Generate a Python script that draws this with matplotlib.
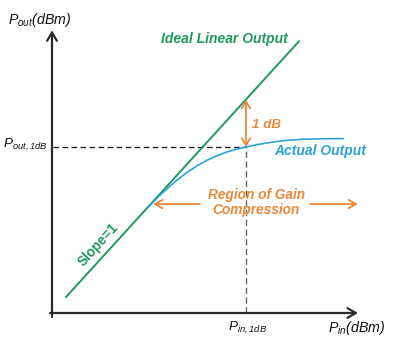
import matplotlib
matplotlib.use("Agg")
import matplotlib.pyplot as plt

plt.rcParams['font.family'] = ['Liberation Sans', 'DejaVu Sans']
plt.rcParams['mathtext.fontset'] = 'custom'
plt.rcParams['mathtext.rm'] = 'Liberation Sans:italic'
plt.rcParams['mathtext.it'] = 'Liberation Sans:italic'
plt.rcParams['mathtext.bf'] = 'Liberation Sans:bold:italic'

# ---- data (schematic units, dBm) ----
ideal_x = [1.4, 24.7]
ideal_y = [1.45, 24.7]

actual_x = [9.6, 10.5, 11.5, 12.5, 13.5, 14.5, 15.5, 16.5, 17.5, 18.5, 19.4,
            20.5, 21.5, 22.5, 23.5, 25.0, 27.0, 29.1]
actual_y = [9.6, 10.45, 11.3, 12.08, 12.78, 13.38, 13.88, 14.3, 14.64, 14.9, 15.09,
            15.3, 15.46, 15.59, 15.69, 15.79, 15.84, 15.85]

p_in_1db = 19.4
p_out_1db = 15.09
p_ideal_1db = 19.4

axis_x_end = 30.6
axis_y_end = 25.7

region_y = 9.9
region_left = [14.8, 10.1]
region_right = [25.8, 30.6]

labels = {
    'ylabel': r'$P_{out}(dBm)$',
    'xlabel': r'$P_{in}(dBm)$',
    'pout1db': r'$P_{out,1dB}$',
    'pin1db': r'$P_{in,1dB}$',
    'ideal': 'Ideal Linear Output',
    'actual': 'Actual Output',
    'onedb': '1 dB',
    'region1': 'Region of Gain',
    'region2': 'Compression',
    'slope': 'Slope=1',
}

GREEN = '#1f9a5c'
BLUE = '#2ba3d6'
ORANGE = '#e8893a'
DARK = '#2a2a2a'

fig = plt.figure(figsize=(4.05, 3.54), dpi=100)
ax = fig.add_axes([0, 0, 1, 1])
ax.set_xlim(-5.2, 35.3)
ax.set_ylim(-3.727, 28.45)
ax.axis('off')

# axes with arrows
ax.annotate('', xy=(0, axis_y_end), xytext=(0, -0.36),
            arrowprops=dict(arrowstyle='->,head_length=0.6,head_width=0.35',
                            lw=1.6, color=DARK, shrinkA=0, shrinkB=0))
ax.annotate('', xy=(axis_x_end, 0), xytext=(-0.2, 0),
            arrowprops=dict(arrowstyle='->,head_length=0.6,head_width=0.35',
                            lw=1.6, color=DARK, shrinkA=0, shrinkB=0))

# dashed guides
ax.plot([0.1, p_in_1db], [p_out_1db, p_out_1db], color='#222222', lw=1.0,
        dashes=(4, 2.5), zorder=2)
ax.plot([p_in_1db, p_in_1db], [0, p_out_1db], color='#666666', lw=1.0,
        dashes=(4.5, 2.5), zorder=2)

# curves
ax.plot(ideal_x, ideal_y, color=GREEN, lw=1.4, zorder=3)
ax.plot(actual_x, actual_y, color=BLUE, lw=1.2, zorder=3)

# 1 dB arrow
ax.annotate('', xy=(p_in_1db, p_ideal_1db), xytext=(p_in_1db, p_out_1db),
            arrowprops=dict(arrowstyle='<->,head_length=0.5,head_width=0.3',
                            lw=1.3, color=ORANGE, shrinkA=0, shrinkB=0), zorder=4)

# region arrows
ax.annotate('', xy=(region_left[1], region_y), xytext=(region_left[0], region_y),
            arrowprops=dict(arrowstyle='->,head_length=0.55,head_width=0.3',
                            lw=1.3, color=ORANGE, shrinkA=0, shrinkB=0))
ax.annotate('', xy=(region_right[1], region_y), xytext=(region_right[0], region_y),
            arrowprops=dict(arrowstyle='->,head_length=0.55,head_width=0.3',
                            lw=1.3, color=ORANGE, shrinkA=0, shrinkB=0))

# texts
ax.text(-4.4, 26.27, labels['ylabel'], fontsize=10.2, color='#111111', ha='left', va='baseline')
ax.text(27.6, -1.73, labels['xlabel'], fontsize=10.2, color='#111111', ha='left', va='baseline')
ax.text(-4.9, 15.0, labels['pout1db'], fontsize=9.7, color='#111111', ha='left', va='baseline')
ax.text(19.6, -1.64, labels['pin1db'], fontsize=9.7, color='#111111', ha='center', va='baseline')

bi = dict(fontweight='bold', fontstyle='italic')
ax.text(17.2, 24.55, labels['ideal'], fontsize=10, color=GREEN, ha='center', va='baseline', **bi)
ax.text(26.8, 14.4, labels['actual'], fontsize=10, color=BLUE, ha='center', va='baseline', **bi)
ax.text(20.0, 16.8, labels['onedb'], fontsize=9.6, color=ORANGE, ha='left', va='baseline', **bi)
ax.text(20.45, 10.36, labels['region1'], fontsize=9.8, color=ORANGE, ha='center', va='baseline', **bi)
ax.text(20.45, 9.0, labels['region2'], fontsize=9.8, color=ORANGE, ha='center', va='baseline', **bi)
ax.text(4.6, 6.2, labels['slope'], fontsize=9.8, color=GREEN, ha='center', va='center',
        fontweight='bold', rotation=47.7, rotation_mode='anchor')

fig.savefig('out.png', dpi=100)
